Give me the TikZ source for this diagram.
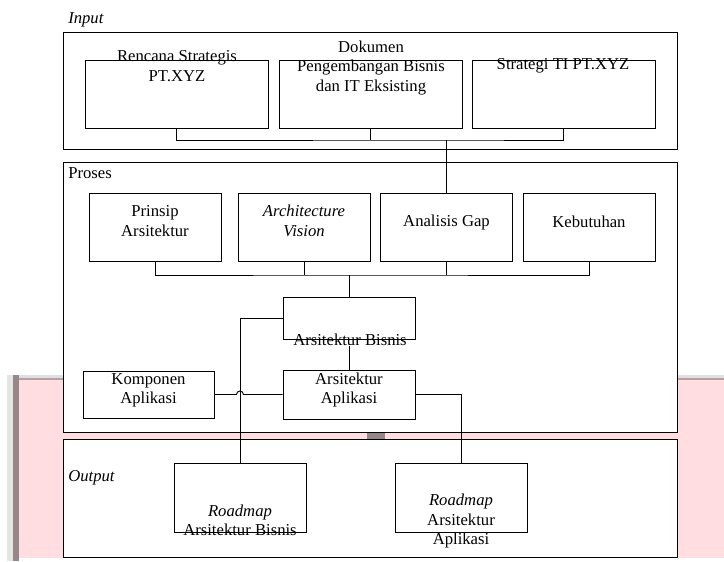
\documentclass[tikz,border=0pt]{standalone}
\usepackage{fontspec}
\setmainfont{Liberation Serif}
\usetikzlibrary{calc}
\definecolor{pagepink}{RGB}{255,221,224}
\definecolor{edgegray}{RGB}{150,135,136}

\begin{document}
\begin{tikzpicture}[x=0.75pt,y=-0.75pt]
  \tikzset{panel/.style={draw, fill=white, line width=0.7pt,
      minimum width=460.5pt, inner sep=0pt},
    box/.style={draw, fill=white, line width=0.7pt, inner sep=0pt,
      minimum width=99pt, minimum height=51pt},
    caption/.style={inner sep=0pt, align=center,
      font=\fontsize{12.5}{14.5}\selectfont},
    wire/.style={line width=0.7pt}
  }
  \useasboundingbox (0,0) rectangle (724,561);
  % page edge behind the lower part
  \fill[gray!20] (7,375) rectangle (13,561);
  \fill[edgegray] (13,375) rectangle (19,561);
  \fill[gray!25] (19,375) rectangle (724,377.5);
  \fill[edgegray!70!pagepink] (19,377.5) rectangle (724,380);
  \fill[pagepink] (19,380) rectangle (724,558);

  \node [panel,minimum height=87.75pt] (input) at (370,90.5) {};
  \node [panel,minimum height=202.5pt] (proses) at (370,297) {};
  \node [panel,minimum height=88.5pt] (output) at (370,498) {};
  \fill[edgegray] (367,433) rectangle (385,439);

  \node [caption,anchor=west,font=\fontsize{12.5}{14.5}\selectfont\itshape] (input-lbl) at (68,20) {Input};
  \node [caption,anchor=west] (proses-lbl) at (68,173) {Proses};
  \node [caption,anchor=west,font=\fontsize{12.5}{14.5}\selectfont\itshape] (output-lbl) at (68,478) {Output};

  \node [box,minimum width=137.25pt] (renstra) at (176.5,94) {};
  \node [box,minimum width=137.25pt] (dokumen) at (370.5,94) {};
  \node [box,minimum width=137.25pt] (stratti) at (563.5,94) {};
  \node [caption] (renstra-txt) at (177,66) {Rencana Strategis\\PT.XYZ};
  \node [caption] (dokumen-txt) at (371,68) {Dokumen\\Pengembangan Bisnis\\dan IT Eksisting};
  \node [caption] (stratti-txt) at (563,66) {Strategi TI PT.XYZ};

  \node [box] (prinsip) at (155,227) {};
  \node [box] (vision) at (304,227) {};
  \node [box] (gap) at (446.5,227) {};
  \node [box] (kebutuhan) at (589,227) {};
  \node [caption] (prinsip-txt) at (155,221) {Prinsip\\Arsitektur};
  \node [caption,font=\fontsize{12.5}{14.5}\selectfont\itshape] (vision-txt) at (304,221) {Architecture\\Vision};
  \node [caption] (gap-txt) at (446.5,222) {Analisis Gap};
  \node [caption] (kebutuhan-txt) at (589,222) {Kebutuhan};

  \node [box,minimum height=31.5pt] (bisnis) at (349,318) {};
  \node [box,minimum height=36.75pt] (aplikasi) at (349,394.5) {};
  \node [box,minimum width=98.25pt,minimum height=35.25pt] (komponen) at (148.5,394.5) {};
  \node [caption] (bisnis-txt) at (350,340) {Arsitektur Bisnis};
  \node [caption] (aplikasi-txt) at (349,390) {Arsitektur\\Aplikasi};
  \node [caption] (komponen-txt) at (148.5,390) {Komponen\\Aplikasi};

  \node [box,minimum height=51.75pt] (rmbisnis) at (240,497.5) {};
  \node [box,minimum height=51.75pt] (rmaplikasi) at (461,497.5) {};
  \node [caption] (rmbisnis-txt) at (240,520) {\textit{Roadmap}\\Arsitektur Bisnis};
  \node [caption] (rmaplikasi-txt) at (461,521) {\textit{Roadmap}\\Arsitektur\\Aplikasi};

  \coordinate (bus-in) at (gap.north |- 0,140);
  \draw [wire] (renstra.south) |- (bus-in) -| (stratti.south);
  \draw [wire] (dokumen.south) -- (dokumen.south |- bus-in);
  \draw [wire] (bus-in) -- (gap.north);

  \coordinate (bus-pr) at (bisnis.north |- 0,275);
  \draw [wire] (prinsip.south) |- (bus-pr) -| (kebutuhan.south);
  \draw [wire] (vision.south) -- (vision.south |- bus-pr);
  \draw [wire] (gap.south) -- (gap.south |- bus-pr);
  \draw [wire] (bus-pr) -- (bisnis.north);
  \draw [wire] (bisnis-txt.south -| bisnis.south) -- (aplikasi.north);

  \coordinate (hop) at (rmbisnis.north |- komponen.east);
  \draw [wire] (komponen.east) -- ($(hop)+(-3.5,0)$)
    arc [start angle=180,end angle=0,radius=2.6pt] -- (aplikasi.west);
  \draw [wire] (bisnis.west) -| (rmbisnis.north);
  \draw [wire] (aplikasi.east) -| (rmaplikasi.north);
\end{tikzpicture}
\end{document}
